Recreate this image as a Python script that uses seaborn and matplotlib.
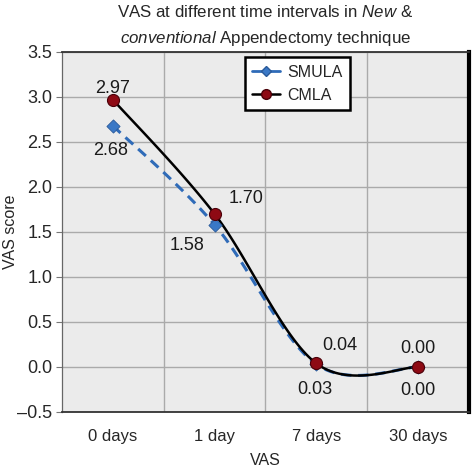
import numpy as np
import pandas as pd
import matplotlib
matplotlib.use("Agg")
import matplotlib.pyplot as plt
import seaborn as sns
from matplotlib.lines import Line2D

categories = ["0 days", "1 day", "7 days", "30 days"]
smula = [2.68, 1.58, 0.03, 0.00]
cmla = [2.97, 1.70, 0.04, 0.00]
yticks = [-0.5, 0.0, 0.5, 1.0, 1.5, 2.0, 2.5, 3.0, 3.5]

sns.set_theme(style="white")
plt.rcParams['font.family'] = ['Liberation Sans', 'DejaVu Sans']
plt.rcParams['mathtext.fontset'] = 'custom'
plt.rcParams['mathtext.it'] = 'Liberation Sans:italic'
plt.rcParams['mathtext.rm'] = 'Liberation Sans'


def smooth(xs, ys, n=40):
    # Catmull-Rom (Excel-style smoothed line) through the data points
    P = np.column_stack([xs, ys]).astype(float)
    P = np.vstack([P[0], P, P[-1]])
    out = []
    for i in range(1, len(P) - 2):
        p0, p1, p2, p3 = P[i - 1], P[i], P[i + 1], P[i + 2]
        m1 = (p2 - p0) / 2.0
        m2 = (p3 - p1) / 2.0
        t = np.linspace(0, 1, n)[:, None]
        h00 = 2 * t**3 - 3 * t**2 + 1
        h10 = t**3 - 2 * t**2 + t
        h01 = -2 * t**3 + 3 * t**2
        h11 = t**3 - t**2
        out.append(h00 * p1 + h10 * m1 + h01 * p2 + h11 * m2)
    c = np.vstack(out)
    return c[:, 0], c[:, 1]


xpos = np.arange(len(categories))

fig = plt.figure(figsize=(4.74, 4.71), dpi=100)
ax = fig.add_axes([0.131, 0.1253, 0.858, 0.7643])
ax.set_facecolor("#ebebeb")

sx, sy = smooth(xpos, smula)
cx, cy = smooth(xpos, cmla)

df_s = pd.DataFrame({"x": sx, "y": sy})
df_c = pd.DataFrame({"x": cx, "y": cy})

blue = "#2f6bb8"
red = "#8e0a14"

sns.lineplot(data=df_s, x="x", y="y", sort=False, estimator=None, ax=ax,
             color=blue, lw=2.2, linestyle=(0, (3.4, 2.2)), zorder=3)
sns.lineplot(data=df_c, x="x", y="y", sort=False, estimator=None, ax=ax,
             color="black", lw=1.8, zorder=4)
sns.scatterplot(x=xpos, y=smula, ax=ax, marker="D", s=45, color="#3a78c6",
                edgecolor="#2a5a9a", linewidth=0.6, zorder=5)
sns.scatterplot(x=xpos, y=cmla, ax=ax, marker="o", s=75, color=red,
                edgecolor="#4a0008", linewidth=0.8, zorder=6)

# data labels
fs = 13
lab_c = [(0, 8), (23, 11), (17, 13), (0, 13)]
lab_s = [(-2, -18), (-20, -15), (-1, -18), (0, -17)]
for i in range(len(categories)):
    ax.annotate(f"{cmla[i]:.2f}", (xpos[i], cmla[i]), xytext=lab_c[i],
                textcoords="offset points", ha="center", va="center",
                fontsize=fs, color="#1a1a1a", zorder=7)
    ax.annotate(f"{smula[i]:.2f}", (xpos[i], smula[i]), xytext=lab_s[i],
                textcoords="offset points", ha="center", va="center",
                fontsize=fs, color="#1a1a1a", zorder=7)

ax.set_xlim(-0.5, len(categories) - 0.5)
ax.set_ylim(-0.5, 3.5)
ax.set_yticks(yticks)
ax.set_yticklabels([f"{v:.1f}".replace("-", "\u2013") for v in yticks], fontsize=13)
ax.set_xticks(xpos)
ax.set_xticklabels(categories, fontsize=12)
ax.set_xticks(np.arange(0.5, len(categories) - 0.5, 1.0), minor=True)
ax.grid(True, axis="y", which="major", color="#aaaaaa", lw=1.0, zorder=0)
ax.grid(True, axis="x", which="minor", color="#aaaaaa", lw=1.0, zorder=0)
ax.grid(False, axis="x", which="major")
ax.set_axisbelow(True)
ax.tick_params(axis="y", which="major", left=True, length=4, width=0.8,
               color="#777777", pad=3)
ax.tick_params(axis="x", which="both", bottom=False, pad=6)

for side in ["left", "top", "bottom"]:
    ax.spines[side].set_color("#333333")
    ax.spines[side].set_linewidth(1.3)
ax.spines["left"].set_color("#666666")
ax.spines["left"].set_linewidth(0.9)
ax.spines["right"].set_color("black")
ax.spines["right"].set_linewidth(3.0)

ax.set_xlabel("VAS", fontsize=11.5, labelpad=7)
ax.set_ylabel("VAS score", fontsize=11.5, va="center")
ax.yaxis.set_label_coords(-0.128, 0.5)

fig.text(0.56, 0.945,
         "VAS at different time intervals in $\\it{New}$ &\n$\\it{conventional}$ Appendectomy technique",
         ha="center", va="center", fontsize=12.2, linespacing=1.62)

handles = [
    Line2D([], [], color=blue, lw=2, marker="D", markersize=5,
           markerfacecolor="#3a78c6", markeredgecolor="#2a5a9a"),
    Line2D([], [], color="black", lw=1.8, marker="o", markersize=7,
           markerfacecolor=red, markeredgecolor="#4a0008"),
]
leg = ax.legend(handles, ["SMULA", "CMLA"], loc="upper left",
                bbox_to_anchor=(0.45, 0.985), fontsize=11.5, frameon=True,
                fancybox=False, shadow=False, handlelength=1.75,
                handletextpad=0.45, borderpad=0.45, labelspacing=0.5,
                borderaxespad=0)
leg.get_frame().set_edgecolor("black")
leg.get_frame().set_linewidth(1.8)
leg.get_frame().set_facecolor("white")
leg.get_frame().set_alpha(1)

fig.savefig("out.png", dpi=100, facecolor="white")
